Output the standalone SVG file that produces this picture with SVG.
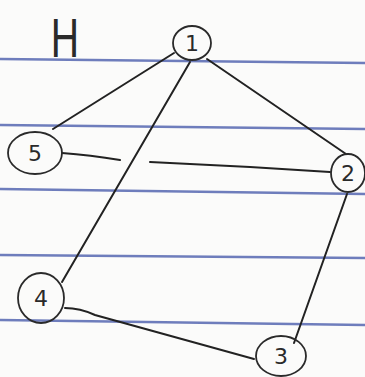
<svg xmlns="http://www.w3.org/2000/svg" width="365" height="377" viewBox="0 0 365 377">
<style>
.rule{stroke:#5566b0;stroke-width:2.4;fill:none;opacity:0.85}
.edge{stroke:#222;stroke-width:2;fill:none;stroke-linecap:round}
.node ellipse{fill:none;stroke:#2a2a2a;stroke-width:1.8}
.lbl{font-family:"DejaVu Sans",sans-serif;font-size:22px;fill:#2a2a2a;text-anchor:middle}
</style>
<rect width="365" height="377" fill="#fbfbfa"/>
<g id="paper-lines">
<path class="rule" d="M0 59 L365 63"/>
<path class="rule" d="M0 125 L365 129"/>
<path class="rule" d="M0 189 L365 194"/>
<path class="rule" d="M0 255 L365 258"/>
<path class="rule" d="M0 320 L365 325"/>
</g>
<text x="0" y="0" transform="translate(65 57) scale(0.7 1)" style="font-family:'Liberation Sans',Arial,sans-serif;font-size:56px;fill:#2a2a2a;text-anchor:middle;font-weight:normal">H</text>
<g id="connectors">
<path class="edge" d="M174 53 L53 129"/>
<path class="edge" d="M190 62 L62 282"/>
<path class="edge" d="M207 59 L346 154"/>
<path class="edge" d="M62 153 Q90 155 120 160"/>
<path class="edge" d="M150 162 Q240 166 330 172"/>
<path class="edge" d="M347 194 L294 343"/>
<path class="edge" d="M65 308 Q80 308 95 315 L254 359"/>
</g>
<g id="node1" class="node"><ellipse cx="192" cy="43" rx="19" ry="17"/><text class="lbl" x="192" y="51">1</text></g>
<g id="node5" class="node"><ellipse cx="35" cy="153" rx="27" ry="21"/><text class="lbl" x="35" y="161">5</text></g>
<g id="node2" class="node"><ellipse cx="348" cy="173" rx="17" ry="19"/><text class="lbl" x="348" y="181">2</text></g>
<g id="node4" class="node"><ellipse cx="41" cy="298" rx="23" ry="25"/><text class="lbl" x="41" y="306">4</text></g>
<g id="node3" class="node"><ellipse cx="281" cy="356" rx="25" ry="20"/><text class="lbl" x="281" y="364">3</text></g>
</svg>
